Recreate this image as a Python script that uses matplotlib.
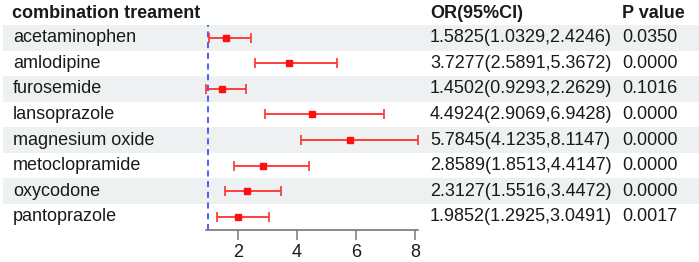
import matplotlib
matplotlib.use("Agg")
import matplotlib.pyplot as plt
from matplotlib.patches import Rectangle
from matplotlib.transforms import blended_transform_factory

plt.rcParams['font.family'] = ['Liberation Sans', 'DejaVu Sans']

drugs = ['acetaminophen', 'amlodipine', 'furosemide', 'lansoprazole',
         'magnesium oxide', 'metoclopramide', 'oxycodone', 'pantoprazole']
odds = [1.5825, 3.7277, 1.4502, 4.4924, 5.7845, 2.8589, 2.3127, 1.9852]
lower = [1.0329, 2.5891, 0.9293, 2.9069, 4.1235, 1.8513, 1.5516, 1.2925]
upper = [2.4246, 5.3672, 2.2629, 6.9428, 8.1147, 4.4147, 3.4472, 3.0491]
pvals = ['0.0350', '0.0000', '0.1016', '0.0000', '0.0000', '0.0000', '0.0000', '0.0017']

W, H = 699, 262
fig = plt.figure(figsize=(W / 100, H / 100), dpi=100)

# forest axes placed in pixel terms
left, right, top, bottom = 206.4, 418.4, 25, 229.5
ax = fig.add_axes([left / W, 1 - bottom / H, (right - left) / W, (bottom - top) / H])
ax.patch.set_visible(False)

n = len(drugs)
ys = list(range(n))
ax.set_ylim(n - 0.5, -0.5)
ax.set_xlim(min(lower), max(upper))

tr = blended_transform_factory(fig.transFigure, ax.transData)
txt = '#1a1a1a'

# shaded rows
for i in ys:
    if i % 2 == 0:
        ax.add_patch(Rectangle((3 / W, i - 0.5), 1 - 3 / W, 1, transform=tr,
                               facecolor='#eef1f1', edgecolor='none', clip_on=False, zorder=0))

# confidence intervals
xerr = [[o - l for o, l in zip(odds, lower)], [u - o for o, u in zip(odds, upper)]]
ax.errorbar(odds, ys, xerr=xerr, fmt='s', color='#ff1010', ecolor='#ff3030',
            ms=4.5, elinewidth=1.3, capsize=3.5, capthick=1.2, zorder=3, clip_on=False)
ax.axvline(1, color='#2030ff', ls=(0, (4, 3)), lw=1.1, zorder=2)

for s in ['top', 'right', 'left']:
    ax.spines[s].set_visible(False)
ax.spines['bottom'].set_color('#777777')
ax.spines['bottom'].set_linewidth(1.2)
ax.set_yticks([])
ax.set_xticks([2, 4, 6, 8])
ax.tick_params(axis='x', labelsize=13, length=7, width=1.1, color='#777777',
               labelcolor=txt, pad=3.5)

# table text
for i in ys:
    ax.text(13 / W, i, drugs[i], transform=tr, fontsize=13, color=txt, va='center')
    ci = f"{odds[i]:.4f}({lower[i]:.4f},{upper[i]:.4f})"
    ax.text(430 / W, i, ci, transform=tr, fontsize=13, color=txt, va='center')
    ax.text(622 / W, i, pvals[i], transform=tr, fontsize=13, color=txt, va='center')

fig.text(12 / W, 1 - 13 / H, 'combination treament', fontsize=13, fontweight='bold', color=txt, va='center')
fig.text(430 / W, 1 - 13 / H, 'OR(95%CI)', fontsize=13, fontweight='bold', color=txt, va='center')
fig.text(622 / W, 1 - 13 / H, 'P value', fontsize=13, fontweight='bold', color=txt, va='center')

fig.savefig('out.png', dpi=100)
